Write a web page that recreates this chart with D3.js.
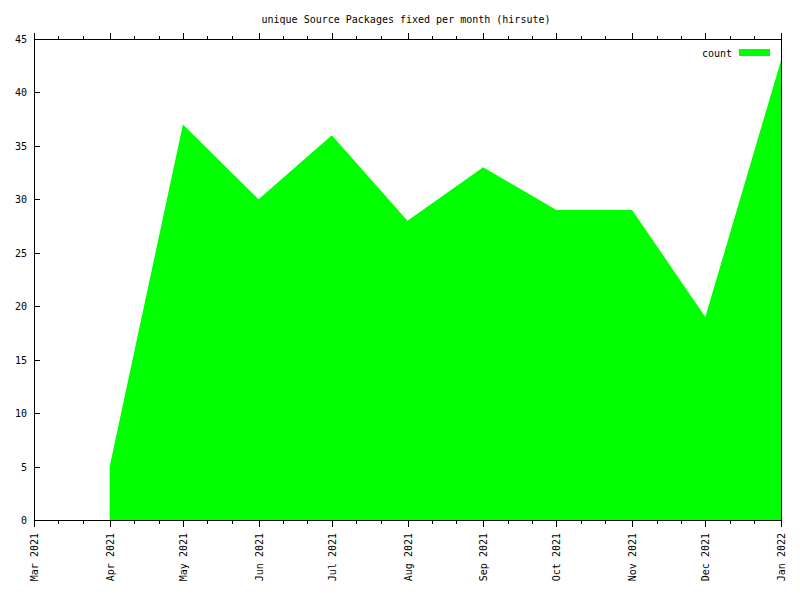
<!DOCTYPE html>
<html><head><meta charset="utf-8">
<script src="https://cdn.jsdelivr.net/npm/d3@7"></script>
<style>
body{margin:0;background:#fff;}
text{font-family:"DejaVu Sans Mono",monospace;font-size:10px;fill:#000;}
</style></head>
<body>
<svg id="c" width="800" height="600"></svg>
<script>
const title = "unique Source Packages fixed per month (hirsute)";
const months = ["2021-04-01","2021-05-01","2021-06-01","2021-07-01","2021-08-01","2021-09-01","2021-10-01","2021-11-01","2021-12-01","2022-01-01"];
const counts = [5,37,30,36,28,33,29,29,19,43];
const seriesName = "count";
const yTicks = [0,5,10,15,20,25,30,35,40,45];
const xStart = "2021-03-01", xEnd = "2022-01-01";

const parse = d3.utcParse("%Y-%m-%d");
const data = months.map((m,i)=>({d:parse(m),v:counts[i]}));
const svg = d3.select("#c");
const L=34,R=781,T=39,B=520;
const x = d3.scaleUtc().domain([parse(xStart),parse(xEnd)]).range([L,R]);
const y = d3.scaleLinear().domain([0,45]).range([B,T]);

svg.append("rect").attr("width",800).attr("height",600).attr("fill","#fff");

// area
const area = d3.area().x(d=>x(d.d)).y0(y(0)).y1(d=>y(d.v));
svg.append("path").datum(data).attr("d",area).attr("fill","#00ff00");

const g = svg.append("g").attr("shape-rendering","crispEdges");
// border
g.append("rect").attr("x",L+0.5).attr("y",T+0.5).attr("width",R-L).attr("height",B-T)
 .attr("fill","none").attr("stroke","#000");

// y ticks
yTicks.forEach(t=>{
  const yy=Math.round(y(t))+0.5;
  g.append("line").attr("x1",L).attr("x2",L+6).attr("y1",yy).attr("y2",yy).attr("stroke","#000");
  svg.append("text").attr("x",27).attr("y",yy).attr("dy","0.35em").attr("text-anchor","end").text(t);
});

// x ticks
const majors = d3.utcMonth.range(parse(xStart), d3.utcDay.offset(parse(xEnd),1));
const minors = [];
majors.slice(0,-1).forEach(m=>{ minors.push(d3.utcDay.offset(m,10)); minors.push(d3.utcDay.offset(m,20)); });
const fmt = d3.utcFormat("%b %Y");
majors.forEach(m=>{
  const xx=Math.round(x(m))+0.5;
  g.append("line").attr("x1",xx).attr("x2",xx).attr("y1",B).attr("y2",B+7).attr("stroke","#000");
  g.append("line").attr("x1",xx).attr("x2",xx).attr("y1",T+1).attr("y2",T-6).attr("stroke","#000");
  svg.append("text").attr("transform",`translate(${xx},533) rotate(-90)`)
    .attr("text-anchor","end").attr("dy","0.35em").text(fmt(m));
});
minors.forEach(m=>{
  const xx=Math.round(x(m))+0.5;
  g.append("line").attr("x1",xx).attr("x2",xx).attr("y1",B).attr("y2",B+4).attr("stroke","#000");
  g.append("line").attr("x1",xx).attr("x2",xx).attr("y1",T+1).attr("y2",T-3).attr("stroke","#000");
});

// title
svg.append("text").attr("x",406).attr("y",19).attr("dy","0.35em").attr("text-anchor","middle").text(title);

// legend
svg.append("text").attr("x",732).attr("y",53).attr("dy","0.35em").attr("text-anchor","end").text(seriesName);
svg.append("rect").attr("x",739).attr("y",49).attr("width",31).attr("height",7).attr("fill","#00ff00");
</script>
</body></html>
